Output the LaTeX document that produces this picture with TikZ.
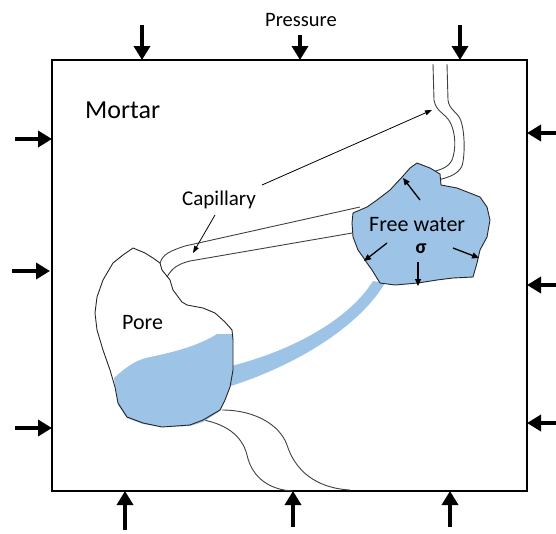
\documentclass[tikz,border=0pt]{standalone}
\usepackage{fontspec}
\setmainfont{Carlito}
\usetikzlibrary{arrows.meta}
\definecolor{water}{HTML}{9DC3E6}
\begin{document}
\begin{tikzpicture}[x=1pt,y=-1pt,
  press/.style={line width=4.8pt,-{Triangle[length=14pt,width=16pt]}},
  lblarrow/.style={line width=0.8pt,-{Triangle[length=7pt,width=5pt]}},
  stress/.style={line width=1.3pt,-{Triangle[length=7pt,width=6pt]}},
  outline/.style={line width=0.9pt,black!85,line join=round},
  tube/.style={line width=0.9pt,black!75},
  lbl/.style={inner sep=0pt,font=\fontsize{22}{26}\selectfont}]
\useasboundingbox (0,0) rectangle (556,533);

% mortar specimen
\draw[line width=2pt] (52,60) rectangle (527,491);
\node[inner sep=0pt,anchor=base west,font=\fontsize{26}{30}\selectfont] (mortar) at (85,118) {Mortar};
\node[inner sep=0pt,font=\fontsize{20.5}{24}\selectfont] (pressure) at (301,20) {Pressure};

% external pressure: top, bottom, left, right
\foreach \x/\s [count=\i] in {142/25,300/35,460/25}{
  \coordinate (ts\i) at (\x,\s); \coordinate (te\i) at (\x,60);
  \draw[press] (ts\i) -- (te\i);}
\foreach \x/\s [count=\i] in {125/530,293/527,450/527}{
  \coordinate (bs\i) at (\x,\s); \coordinate (be\i) at (\x,491);
  \draw[press] (bs\i) -- (be\i);}
\foreach \y/\s/\e [count=\i] in {139/15/52,271/12/50,428/15/52}{
  \coordinate (ls\i) at (\s,\y); \coordinate (le\i) at (\e,\y);
  \draw[press] (ls\i) -- (le\i);}
\foreach \y [count=\i] in {133,285,423}{
  \coordinate (rs\i) at (560,\y); \coordinate (re\i) at (527,\y);
  \draw[press] (rs\i) -- (re\i);}

% channel of water linking the pore and the free water
\fill[water] (231,366) .. controls (295,350) and (350,318) .. (373,281)
  -- (385,283) .. controls (362,322) and (305,362) .. (231,386) -- cycle;

% capillary from the pore to the free water
\draw[tube] (160,263) .. controls (163,254) and (170,251) .. (185,246) -- (360,207);
\draw[tube] (167,277) .. controls (172,268) and (178,264) .. (190,261) -- (358,232);

% capillary from the free water up to the top face
\draw[tube] (433,64) -- (434,100) .. controls (436,112) and (445,113) .. (450,122)
  .. controls (456,133) and (456,150) .. (452,160) .. controls (448,168) and (440,170) .. (428,173);
\draw[tube] (447,64) -- (448,100) .. controls (449,110) and (458,112) .. (461,121)
  .. controls (465,133) and (465,156) .. (462,166) .. controls (458,174) and (450,177) .. (438,180);

% capillaries from the pore down to the bottom face
\draw[tube] (198,419) .. controls (225,423) and (242,435) .. (247,455)
  .. controls (252,478) and (270,490) .. (293,491);
\draw[tube] (222,410) .. controls (255,410) and (280,425) .. (287,445)
  .. controls (295,470) and (315,488) .. (350,490);

% water in the pore
\fill[water] (114,378) .. controls (125,368) and (135,360) .. (150,357)
  .. controls (175,352) and (200,345) .. (217,334) -- (233,334) -- (233,370)
  -- (230,387) -- (225,400) -- (220,411) -- (203,422) -- (190,426) -- (162,427)
  -- (143,424) -- (127,418) -- (118,405) -- cycle;

% pore outline
\draw[outline] (123,255) -- (133,248) -- (145,253) -- (153,258) -- (160,263)
  -- (162,270) -- (170,280) -- (173,290) -- (182,302) -- (187,305) -- (203,308)
  -- (215,313) -- (225,322) -- (232,330) -- (233,340) -- (233,370) -- (230,387)
  -- (225,400) -- (220,410) -- (203,420) -- (190,425) -- (162,427) -- (143,423)
  -- (127,417) -- (118,403) -- (115,387) -- (110,370) -- (103,350) -- (97,330)
  -- (95,313) -- (97,297) -- (103,280) -- (113,263) -- cycle;
\node[lbl,anchor=base west] (pore) at (122,329) {Pore};

% free water
\filldraw[fill=water,draw=black!85,line width=0.9pt,line join=round]
  (403,176) -- (410,168) -- (417,163) -- (430,168) -- (440,174) -- (441,185)
  -- (457,188) -- (480,197) -- (487,207) -- (490,220) -- (487,237) -- (480,250)
  -- (477,263) -- (473,277) -- (453,278) -- (437,280) -- (418,283) -- (395,285)
  -- (380,283) -- (372,270) -- (367,263) -- (363,257) -- (358,250) -- (353,237)
  -- (352,223) -- (353,213) -- (367,207) -- (377,200) -- (390,190) -- cycle;
\node[lbl,anchor=base west] (fw) at (369,231) {Free water};
\node[inner sep=0pt,anchor=base,font=\fontsize{20}{24}\selectfont\bfseries] (sigma) at (421,253) {σ};

% stress exerted by the free water
\coordinate (s1a) at (420,200); \coordinate (s1b) at (403,178);
\coordinate (s2a) at (387,243); \coordinate (s2b) at (364,261);
\coordinate (s3a) at (418,262); \coordinate (s3b) at (418,286);
\coordinate (s4a) at (453,248); \coordinate (s4b) at (479,258);
\draw[stress] (s1a) -- (s1b);
\draw[stress] (s2a) -- (s2b);
\draw[stress] (s3a) -- (s3b);
\draw[stress] (s4a) -- (s4b);

% capillary label and its pointers
\node[inner sep=0pt,anchor=base west,font=\fontsize{21}{25}\selectfont] (cap) at (182,205) {Capillary};
\coordinate (c1) at (432,110);
\coordinate (c2) at (193,253);
\draw[lblarrow] (262,185) -- (c1);
\draw[lblarrow] (215,215) -- (c2);
\end{tikzpicture}
\end{document}
